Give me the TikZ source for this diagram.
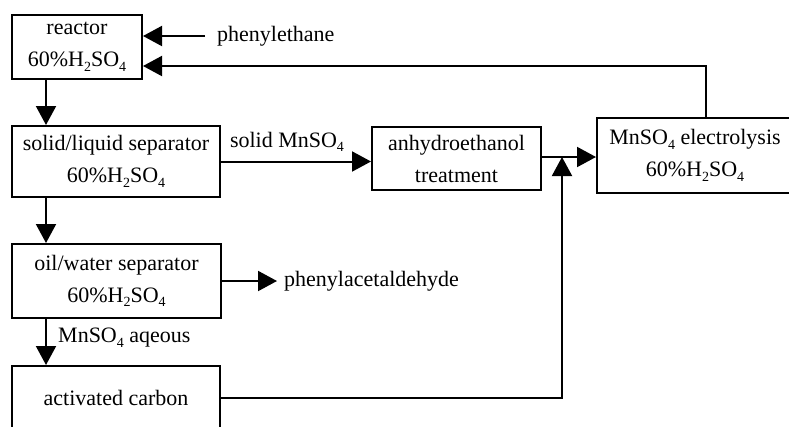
\documentclass[tikz,border=0pt]{standalone}
\usepackage{fontspec}
\setmainfont{Liberation Serif}
\usepackage{tikz}
\usetikzlibrary{arrows.meta}

\newcommand{\lowsub}[1]{\raisebox{-0.45ex}{\fontsize{14}{14}\selectfont #1}}
\newcommand{\sulf}{H\lowsub{2}SO\lowsub{4}}
\newcommand{\mnsulf}{MnSO\lowsub{4}}

\begin{document}
\begin{tikzpicture}[x=1pt,y=-1pt,
    unit/.style={draw,line width=2pt,inner sep=0pt,align=center,
        font=\fontsize{22}{32}\selectfont},
    lbl/.style={inner sep=0pt,font=\fontsize{22}{32}\selectfont},
    flow/.style={line width=2pt,-{Triangle[length=19pt,width=20pt]}}]
    \clip (0,0) rectangle (789,426);

    % Units
    \node[unit,minimum width=130pt,minimum height=64pt] (reactor) at (77,47) {reactor\\60\%\sulf};
    \node[unit,minimum width=208pt,minimum height=71pt] (sep) at (116,161.5) {solid/liquid separator\\60\%\sulf};
    \node[unit,minimum width=169pt,minimum height=63pt] (anhydro) at (456.5,158.5) {anhydroethanol\\treatment};
    \node[unit,minimum width=196pt,minimum height=75pt] (elec) at (695,155.5) {\mnsulf{} electrolysis\\60\%\sulf};
    \node[unit,minimum width=209pt,minimum height=74pt] (oil) at (116.5,281) {oil/water separator\\60\%\sulf};
    \node[unit,minimum width=208pt,minimum height=64pt] (carbon) at (116,398) {activated carbon};

    % Streams
    \node[lbl,anchor=west] (feed) at (217,36) {phenylethane};
    \node[lbl,anchor=west] (prod) at (284,281) {phenylacetaldehyde};
    \node[lbl] (solid) at (287,142) {solid \mnsulf};
    \node[lbl,anchor=west] (aq) at (58,338) {\mnsulf{} aqeous};

    \coordinate (col) at (46,0);
    \coordinate (ret) at (706,66);
    \coordinate (jn) at (562,157);

    % Arrows
    \draw[flow] ([xshift=-12pt]feed.west) -- (reactor.east |- feed.west);
    \draw[flow] (elec.north -| ret) |- (reactor.east |- ret);
    \draw[flow] (reactor.south -| col) -- (sep.north -| col);
    \draw[flow] (sep.east) -- (anhydro.west |- sep.east);
    \draw[flow] (anhydro.east |- jn) -- (elec.west |- jn);
    \draw[flow] (sep.south -| col) -- (oil.north -| col);
    \draw[flow] (oil.east) -- ([xshift=-7pt]prod.west |- oil.east);
    \draw[flow] (oil.south -| col) -- (carbon.north -| col);
    \draw[flow] (carbon.east) -| (jn);
\end{tikzpicture}
\end{document}
